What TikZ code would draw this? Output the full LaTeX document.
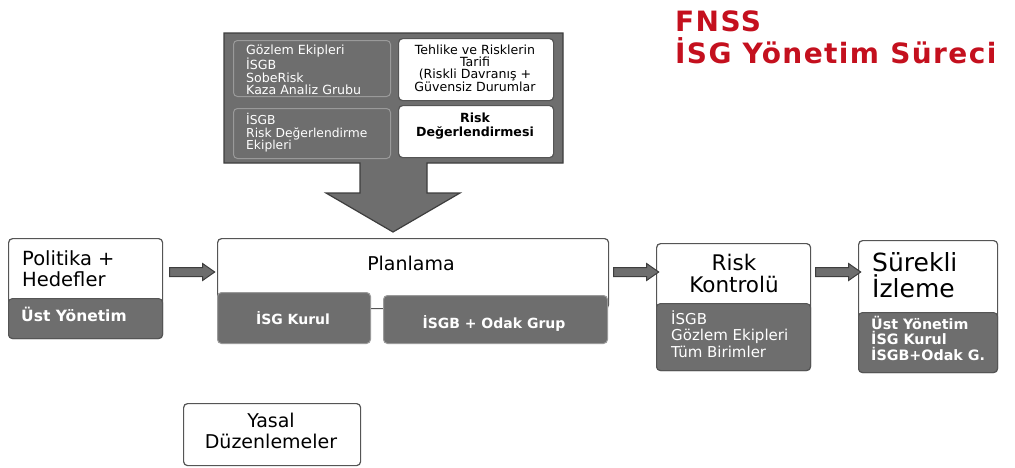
\documentclass[tikz,border=0pt]{standalone}
\usepackage{fontspec}
\setmainfont{DejaVu Sans}
\usetikzlibrary{shapes.arrows}

\definecolor{boxgray}{HTML}{6E6E6E}
\definecolor{boxline}{HTML}{555555}
\definecolor{subline}{HTML}{9A9A9A}
\definecolor{darkline}{HTML}{3E3E3E}
\definecolor{titlered}{HTML}{C4101E}

\tikzset{
    whitebox/.style={draw=boxline, fill=white, line width=1.2pt, rounded corners=4pt, inner sep=0pt, anchor=north west},
    graybox/.style={draw=subline, fill=boxgray, line width=1pt, rounded corners=4pt, inner sep=0pt, anchor=north west},
    wtext/.style={text=white, inner sep=0pt, align=left},
    btext/.style={text=black, inner sep=0pt},
    titletext/.style={anchor=base west, inner sep=0pt, text=titlered,
        font=\fontsize{28}{30}\selectfont\bfseries\addfontfeature{LetterSpace=5}},
    fatarrow/.style={single arrow, draw=darkline, fill=boxgray, line width=1pt, minimum height=45pt,
        text height=0pt, text depth=0pt, inner xsep=0pt, inner ysep=4pt,
        single arrow head extend=4pt, single arrow tip angle=70}
}

\begin{document}
\begin{tikzpicture}[x=1pt, y=-1pt]
    \useasboundingbox (0,0) rectangle (1015,467);

    % title
    \node[titletext] (fnss) at (675,31) {FNSS};
    \node[titletext] (title) at (675,63) {İSG Yönetim Süreci};

    % risk assessment block with down arrow
    \filldraw[fill=boxgray, draw=darkline, line width=1.2pt]
        (224,33) -- (563,33) -- (563,163) -- (427,163) -- (427,193) -- (460,193) -- (393,232)
        -- (326,193) -- (360,193) -- (360,163) -- (224,163) -- cycle;
    \node[graybox, minimum width=157pt, minimum height=56pt] (teams) at (233,40) {};
    \node[whitebox, minimum width=155pt, minimum height=62pt] (hazard) at (398,38) {};
    \node[graybox, minimum width=157pt, minimum height=50pt] (raTeams) at (233,108) {};
    \node[whitebox, minimum width=155pt, minimum height=52pt] (riskAss) at (398,105) {};
    \node[wtext, anchor=west, font=\fontsize{12.6}{12.4}\selectfont] (teamsTxt) at (246,70)
        {Gözlem Ekipleri\\İSGB\\SobeRisk\\Kaza Analiz Grubu};
    \node[btext, align=center, font=\fontsize{12.6}{12.3}\selectfont] (hazardTxt) at (475,68)
        {Tehlike ve Risklerin\\Tarifi\\(Riskli Davranış +\\Güvensiz Durumlar};
    \node[wtext, anchor=west, font=\fontsize{12.3}{12.5}\selectfont] (raTeamsTxt) at (246,133)
        {İSGB\\Risk Değerlendirme\\Ekipleri};
    \node[btext, align=center, font=\fontsize{12.6}{14.5}\selectfont\bfseries] (riskAssTxt) at (475,126)
        {Risk\\Değerlendirmesi};

    % politika
    \node[whitebox, minimum width=154pt, minimum height=100pt] (pol) at (8,238) {};
    \node[graybox, draw=boxline, minimum width=154pt, minimum height=40pt] (polGray) at (8,298) {};
    \node[btext, anchor=west, align=left, font=\fontsize{19.5}{21}\selectfont] (polTxt) at (22,269)
        {Politika +\\Hedefler};
    \node[wtext, anchor=west, font=\fontsize{15.5}{17}\selectfont\bfseries] (polGrayTxt) at (21,314) {Üst Yönetim};

    % planlama
    \node[whitebox, minimum width=391pt, minimum height=70pt] (plan) at (217,238) {};
    \node[graybox, minimum width=153pt, minimum height=51pt] (kurul) at (217,292) {};
    \node[graybox, minimum width=224pt, minimum height=48pt] (odak) at (383,295) {};
    \node[btext, font=\fontsize{19}{21}\selectfont] (planTxt) at (411,263) {Planlama};
    \node[wtext, font=\fontsize{14}{16}\selectfont\bfseries] (kurulTxt) at (293,318) {İSG Kurul};
    \node[wtext, font=\fontsize{14}{16}\selectfont\bfseries] (odakTxt) at (494,323) {İSGB + Odak Grup};

    % risk kontrolu
    \node[whitebox, minimum width=154pt, minimum height=127pt] (ctrl) at (656,243) {};
    \node[graybox, draw=boxline, minimum width=154pt, minimum height=67pt] (ctrlGray) at (656,303) {};
    \node[btext, align=center, font=\fontsize{21.5}{22}\selectfont] (ctrlTxt) at (734,273) {Risk\\Kontrolü};
    \node[wtext, anchor=west, font=\fontsize{15}{16.5}\selectfont] (ctrlGrayTxt) at (671,334)
        {İSGB\\Gözlem Ekipleri\\Tüm Birimler};

    % surekli izleme
    \node[whitebox, minimum width=139pt, minimum height=132pt] (watch) at (858,240) {};
    \node[graybox, draw=boxline, minimum width=139pt, minimum height=60pt] (watchGray) at (858,312) {};
    \node[btext, anchor=west, align=left, font=\fontsize{25}{26.5}\selectfont] (watchTxt) at (872,275)
        {Sürekli\\İzleme};
    \node[wtext, anchor=west, font=\fontsize{14.3}{15.5}\selectfont\bfseries] (watchGrayTxt) at (871,338)
        {Üst Yönetim\\İSG Kurul\\İSGB+Odak G.};

    % yasal
    \node[whitebox, minimum width=177pt, minimum height=62pt] (law) at (183,403) {};
    \node[btext, align=center, font=\fontsize{19}{20.5}\selectfont] (lawTxt) at (271,431) {Yasal\\Düzenlemeler};

    % arrows
    \node[fatarrow] (a1) at (189,272) {};
    \node[fatarrow] (a2) at (633,272) {};
    \node[fatarrow] (a3) at (835,272) {};
\end{tikzpicture}
\end{document}
